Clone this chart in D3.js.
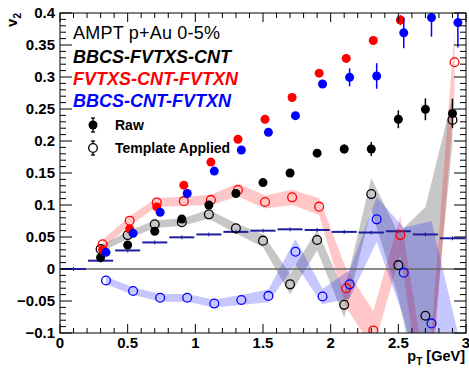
<!DOCTYPE html>
<meta charset="utf-8">
<head>
  <title>v2 vs pT (AMPT p+Au)</title>
</head>

<style>
body {
  margin: 0;
  background: #fff;
}
text {
  font-family: "Liberation Sans", Arial, Helvetica, sans-serif;
}
</style>

<body>
  <div id="content"></div>

  <script src="https://cdnjs.cloudflare.com/ajax/libs/d3/7.8.5/d3.min.js"></script>

  <script>
// pT bin centres (each series is shifted a little in x)
var ptBlack = [0.30, 0.50, 0.70, 0.90, 1.10, 1.30, 1.50, 1.70, 1.90, 2.10, 2.30, 2.50, 2.70, 2.90];
var ptRed   = [0.315, 0.515, 0.715, 0.915, 1.115, 1.315, 1.515, 1.715, 1.915, 2.115, 2.315, 2.515, 2.715, 2.915];
var ptBlue  = [0.34, 0.54, 0.74, 0.94, 1.14, 1.34, 1.54, 1.74, 1.94, 2.14, 2.34, 2.54, 2.745, 2.94];

// BBCS-FVTXS-CNT
var rawBlack    = [0.018, 0.0375, 0.059, 0.078, 0.100, 0.118, 0.135, 0.150, 0.181, 0.1875, 0.1875, 0.234, 0.2495, 0.243];
var rawBlackErr = [0.002, 0.002, 0.002, 0.003, 0.003, 0.003, 0.004, 0.004, 0.005, 0.007, 0.011, 0.014, 0.017, 0.023];
var tmplBlack   = [0.031, 0.053, 0.070, 0.073, 0.0854, 0.0635, 0.0443, -0.024, 0.0453, -0.056, 0.117, 0.006, -0.073, 0.233];
var sysBlack    = [0.005, 0.006, 0.006, 0.006, 0.007, 0.008, 0.010, 0.016, 0.016, 0.020, 0.025, 0.050, 0.170, 0.035];

// FVTXS-CNT-FVTXN
var rawRed    = [0.030, 0.0625, 0.097, 0.131, 0.167, 0.2027, 0.234, 0.268, 0.306, 0.329, 0.357, 0.389, 0.43, 0.46];
var rawRedErr = [0.002, 0.002, 0.002, 0.003, 0.003, 0.003, 0.003, 0.004, 0.004, 0.005, 0.006, 0.008, 0.010, 0.012];
var tmplRed   = [0.0385, 0.0755, 0.104, 0.106, 0.108, 0.1234, 0.1047, 0.112, 0.0974, -0.030, -0.096, 0.053, -0.22, 0.323];
var sysRed    = [0.007, 0.007, 0.007, 0.007, 0.008, 0.010, 0.010, 0.012, 0.013, 0.030, 0.030, 0.030, 0.040, 0.050];

// BBCS-CNT-FVTXN
var rawBlue    = [0.026, 0.0557, 0.0885, 0.118, 0.153, 0.186, 0.2135, 0.2396, 0.289, 0.2995, 0.3016, 0.369, 0.393, 0.385];
var rawBlueErr = [0.002, 0.002, 0.003, 0.003, 0.003, 0.004, 0.004, 0.005, 0.006, 0.014, 0.020, 0.024, 0.030, 0.039];
var tmplBlue   = [-0.018, -0.0344, -0.045, -0.045, -0.054, -0.0484, -0.042, 0.027, -0.043, -0.024, 0.0776, -0.0057, -0.085, -0.30];
var sysBlue    = [0.006, 0.006, 0.006, 0.006, 0.006, 0.008, 0.010, 0.020, 0.012, 0.022, 0.035, 0.070, 0.160, 0.200];

// dark blue step histogram (0.2 GeV bins)
var stepEdges = [0, 0.2, 0.4, 0.6, 0.8, 1.0, 1.2, 1.4, 1.6, 1.8, 2.0, 2.2, 2.4, 2.6, 2.8, 3.0];
var stepVals  = [0.0, 0.013, 0.029, 0.0415, 0.0495, 0.054, 0.058, 0.0599, 0.062, 0.061, 0.058, 0.057, 0.059, 0.054, 0.048];

var xTicks = [0, 0.5, 1, 1.5, 2, 2.5, 3];
var yTicks = [-0.1, -0.05, 0, 0.05, 0.1, 0.15, 0.2, 0.25, 0.3, 0.35, 0.4];
var yTickLabels = ['\u22120.1', '\u22120.05', '0', '0.05', '0.1', '0.15', '0.2', '0.25', '0.3', '0.35', '0.4'];

var legendLines = ['BBCS-FVTXS-CNT', 'FVTXS-CNT-FVTXN', 'BBCS-CNT-FVTXN'];
var legendColors = ['#000000', '#ff0000', '#0000ff'];

var W = 469, H = 368;
var svg = d3.select('#content').append('svg')
  .attr('width', W)
  .attr('height', H);

var x = d3.scaleLinear().domain([0, 3]).range([60, 466]);
var y = d3.scaleLinear().domain([-0.1, 0.4]).range([333, 13]);

svg.append('clipPath').attr('id', 'frame')
  .append('rect')
  .attr('x', x(0)).attr('y', y(0.4))
  .attr('width', x(3) - x(0)).attr('height', y(-0.1) - y(0.4));

var plot = svg.append('g').attr('clip-path', 'url(#frame)');

function rows(pt, v, e) {
  return pt.map(function(p, i) { return {x: p, y: v[i], e: e ? e[i] : 0}; });
}

// systematic bands
var band = d3.area()
  .x(function(d) { return x(d.x); })
  .y0(function(d) { return y(d.y - d.e); })
  .y1(function(d) { return y(d.y + d.e); });

plot.append('path').attr('d', band(rows(ptBlack, tmplBlack, sysBlack))).attr('fill', 'rgba(0,0,0,0.22)');
plot.append('path').attr('d', band(rows(ptRed, tmplRed, sysRed))).attr('fill', 'rgba(255,0,0,0.22)');
plot.append('path').attr('d', band(rows(ptBlue, tmplBlue, sysBlue))).attr('fill', 'rgba(0,0,255,0.22)');

// zero line
plot.append('line')
  .attr('x1', x(0)).attr('x2', x(3))
  .attr('y1', y(0)).attr('y2', y(0))
  .attr('stroke', '#666').attr('stroke-width', 1.3);

// step histogram
stepVals.forEach(function(v, i) {
  var lo = stepEdges[i], hi = stepEdges[i + 1];
  plot.append('line')
    .attr('x1', x(lo) + 1).attr('x2', x(hi) - 1)
    .attr('y1', y(v)).attr('y2', y(v))
    .attr('stroke', '#1e1ea0').attr('stroke-width', 2);
  plot.append('line')
    .attr('x1', x((lo + hi) / 2)).attr('x2', x((lo + hi) / 2))
    .attr('y1', y(v) - 2).attr('y2', y(v) + 2)
    .attr('stroke', '#1e1ea0').attr('stroke-width', 1);
});

function openMarkers(data, color) {
  plot.selectAll(null).data(data).enter().append('circle')
    .attr('cx', function(d) { return x(d.x); })
    .attr('cy', function(d) { return y(d.y); })
    .attr('r', 4.4)
    .attr('fill', 'none')
    .attr('stroke', color)
    .attr('stroke-width', 1.3);
}

function filledMarkers(data, color) {
  var g = plot.append('g');
  g.selectAll(null).data(data).enter().append('line')
    .attr('x1', function(d) { return x(d.x); })
    .attr('x2', function(d) { return x(d.x); })
    .attr('y1', function(d) { return y(d.y - d.e); })
    .attr('y2', function(d) { return y(d.y + d.e); })
    .attr('stroke', color).attr('stroke-width', 1.5);
  g.selectAll(null).data(data).enter().append('circle')
    .attr('cx', function(d) { return x(d.x); })
    .attr('cy', function(d) { return y(d.y); })
    .attr('r', 4.5)
    .attr('fill', color);
}

openMarkers(rows(ptBlack, tmplBlack), '#000');
openMarkers(rows(ptRed, tmplRed), '#ff0000');
openMarkers(rows(ptBlue, tmplBlue), '#0000ff');

filledMarkers(rows(ptBlack, rawBlack, rawBlackErr), '#000');
filledMarkers(rows(ptRed, rawRed, rawRedErr), '#ff0000');
filledMarkers(rows(ptBlue, rawBlue, rawBlueErr), '#0000ff');

// frame and ticks
svg.append('rect')
  .attr('x', x(0)).attr('y', y(0.4))
  .attr('width', x(3) - x(0)).attr('height', y(-0.1) - y(0.4))
  .attr('fill', 'none').attr('stroke', '#000').attr('stroke-width', 1);

var ticks = svg.append('g').attr('stroke', '#000').attr('stroke-width', 1);
d3.range(0, 31).forEach(function(i) {
  var v = i / 10, len = (i % 5 === 0) ? 9 : 5;
  ticks.append('line').attr('x1', x(v)).attr('x2', x(v)).attr('y1', y(-0.1)).attr('y2', y(-0.1) - len);
  ticks.append('line').attr('x1', x(v)).attr('x2', x(v)).attr('y1', y(0.4)).attr('y2', y(0.4) + len);
});
d3.range(0, 51).forEach(function(i) {
  var v = -0.1 + i / 100, len = (i % 5 === 0) ? 12 : 6;
  ticks.append('line').attr('x1', x(0)).attr('x2', x(0) + len).attr('y1', y(v)).attr('y2', y(v));
  ticks.append('line').attr('x1', x(3)).attr('x2', x(3) - len).attr('y1', y(v)).attr('y2', y(v));
});

svg.selectAll(null).data(xTicks).enter().append('text')
  .attr('x', function(d) { return x(d); })
  .attr('y', 348)
  .attr('text-anchor', 'middle')
  .attr('font-size', 15).attr('font-weight', 'bold')
  .text(function(d) { return d; });

svg.selectAll(null).data(yTicks).enter().append('text')
  .attr('x', 55)
  .attr('y', function(d) { return y(d) + 5; })
  .attr('text-anchor', 'end')
  .attr('font-size', 15).attr('font-weight', 'bold')
  .text(function(d, i) { return yTickLabels[i]; });

// axis titles
var yt = svg.append('text')
  .attr('transform', 'translate(17,13) rotate(-90)')
  .attr('text-anchor', 'end')
  .attr('font-size', 15).attr('font-weight', 'bold');
yt.append('tspan').text('v');
yt.append('tspan').attr('font-size', 10).attr('dy', 4).text('2');

var xt = svg.append('text')
  .attr('x', 465).attr('y', 361)
  .attr('text-anchor', 'end')
  .attr('font-size', 14.5).attr('font-weight', 'bold');
xt.append('tspan').text('p');
xt.append('tspan').attr('font-size', 10).attr('dy', 4).text('T');
xt.append('tspan').attr('dy', -4).text(' [GeV]');

// legend
svg.append('text')
  .attr('x', 73).attr('y', 39)
  .attr('font-size', 18)
  .attr('textLength', 147).attr('lengthAdjust', 'spacing')
  .text('AMPT p+Au 0-5%');

svg.selectAll(null).data(legendLines).enter().append('text')
  .attr('x', 73)
  .attr('y', function(d, i) { return 63 + i * 22; })
  .attr('font-size', 18).attr('font-weight', 'bold').attr('font-style', 'italic')
  .attr('fill', function(d, i) { return legendColors[i]; })
  .text(function(d) { return d; });

var lg = svg.append('g').attr('stroke', '#000').attr('stroke-width', 1.3);
lg.append('line').attr('x1', 93).attr('x2', 93).attr('y1', 118).attr('y2', 132);
lg.append('line').attr('x1', 91).attr('x2', 95).attr('y1', 118).attr('y2', 118);
lg.append('line').attr('x1', 91).attr('x2', 95).attr('y1', 132).attr('y2', 132);
lg.append('circle').attr('cx', 93).attr('cy', 125).attr('r', 4.5).attr('fill', '#000').attr('stroke', 'none');
lg.append('line').attr('x1', 93).attr('x2', 93).attr('y1', 141).attr('y2', 143.5);
lg.append('line').attr('x1', 93).attr('x2', 93).attr('y1', 152.5).attr('y2', 155);
lg.append('line').attr('x1', 91).attr('x2', 95).attr('y1', 141).attr('y2', 141);
lg.append('line').attr('x1', 91).attr('x2', 95).attr('y1', 155).attr('y2', 155);
lg.append('circle').attr('cx', 93).attr('cy', 148).attr('r', 4.3).attr('fill', 'none');

svg.append('text').attr('x', 115).attr('y', 130)
  .attr('font-size', 14).attr('font-weight', 'bold').text('Raw');
svg.append('text').attr('x', 115).attr('y', 153)
  .attr('font-size', 14).attr('font-weight', 'bold').text('Template Applied');
  </script>
</body>
</html>
